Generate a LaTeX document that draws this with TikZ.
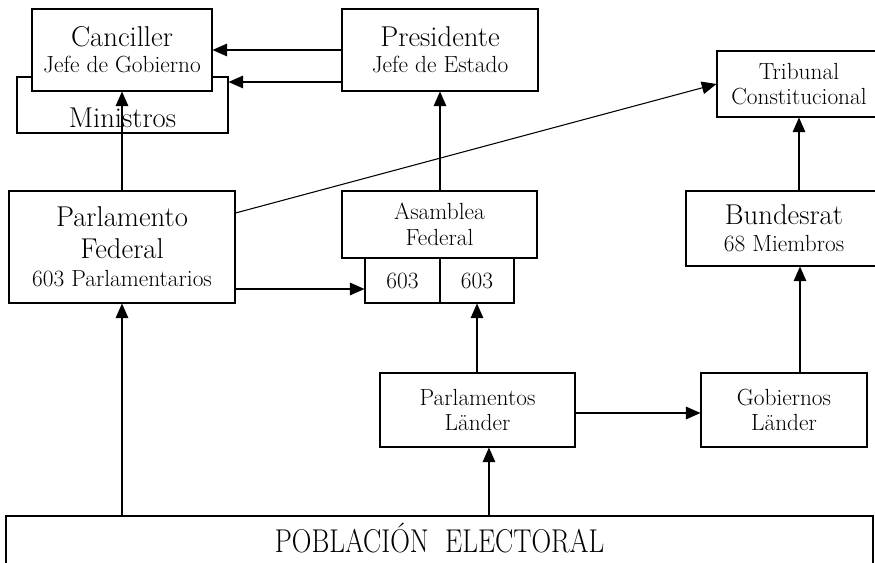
\documentclass[tikz,border=0pt]{standalone}
\usetikzlibrary{arrows.meta}
\newcommand{\bigtxt}{\fontsize{21.5}{24}\selectfont}
\newcommand{\medtxt}{\fontsize{17.5}{19}\selectfont}
\tikzset{
  box/.style={draw, fill=white, line width=0.8pt, inner sep=0pt, align=center, font=\medtxt},
  arr/.style={-{Triangle[length=11pt,width=9.5pt]}, line width=0.8pt}
}
\begin{document}
\begin{tikzpicture}[x=0.75pt,y=-0.75pt]
\useasboundingbox (0,0) rectangle (875,563);
% gobierno
\node[box, minimum width=158.25pt, minimum height=42pt] (min) at (122.5,105) {};
\node[anchor=base, font=\bigtxt] (mintxt) at (122.5,128) {Ministros};
\node[box, minimum width=135pt, minimum height=61.5pt] (canc) at (122,50)
  {{\bigtxt Canciller}\\[0.5pt]Jefe de Gobierno};
\node[box, minimum width=147pt, minimum height=61.5pt] (pres) at (440,50)
  {{\bigtxt Presidente}\\[0.5pt]Jefe de Estado};
\node[box, minimum width=123pt, minimum height=49.5pt] (trib) at (799,84)
  {Tribunal\\Constitucional};
% organos federales
\node[box, minimum width=169.5pt, minimum height=84pt] (parl) at (122,247)
  {{\bigtxt Parlamento}\\[5pt]{\bigtxt Federal}\\[2pt]603 Parlamentarios};
\node[box, minimum width=146.25pt, minimum height=50.25pt] (asam) at (439.5,224.5)
  {Asamblea\\Federal};
\node[box, minimum width=56.25pt, minimum height=33.75pt] (ta) at (402.5,280.5) {603};
\node[box, minimum width=55.5pt, minimum height=33.75pt] (tb) at (477,280.5) {603};
\node[box, minimum width=147pt, minimum height=56.25pt] (bund) at (784,228.5)
  {{\bigtxt Bundesrat}\\[1pt]68 Miembros};
% laender
\node[box, minimum width=146.25pt, minimum height=55.5pt] (plan) at (477.5,410)
  {Parlamentos\\L\"ander};
\node[box, minimum width=124.5pt, minimum height=55.5pt] (gob) at (784,410)
  {Gobiernos\\L\"ander};
\node[box, minimum width=650.25pt, minimum height=37.5pt, font=\bigtxt,
  text height=17pt, text depth=0pt] (pob) at (439.5,541)
  {\scalebox{0.95}[1.15]{POBLACI\'ON\ \ ELECTORAL}};
% conexiones
\draw[arr] (pres.west) -- (canc.east);
\draw[arr] ([yshift=-24pt]pres.west) coordinate (p2) -- (p2 -| min.east);
\draw[arr] (parl.north) -- (canc.south);
\draw[arr] (pres.south |- asam.north) -- (pres.south);
\draw[arr] ([yshift=25.5pt]parl.east) -- (trib.west);
\draw[arr] ([yshift=-31.5pt]parl.east) coordinate (pf) -- (pf -| ta.west);
\draw[arr] (tb.south |- plan.north) -- (tb.south);
\draw[arr] ([yshift=-2.25pt]plan.east) coordinate (pl) -- (pl -| gob.west);
\draw[arr] ([xshift=12pt]gob.north) coordinate (g) -- (g |- bund.south);
\draw[arr] (trib.south |- bund.north) -- (trib.south);
\draw[arr] (parl.south |- pob.north) -- (parl.south);
\coordinate (pv) at ([xshift=8.6pt]plan.south);
\draw[arr] (pv |- pob.north) -- (pv);
\end{tikzpicture}
\end{document}
